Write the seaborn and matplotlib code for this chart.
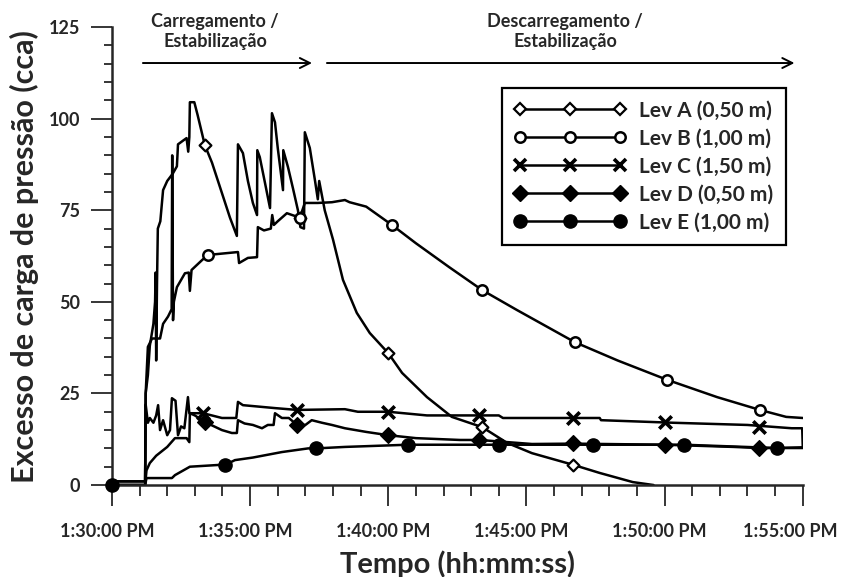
import numpy as np
import pandas as pd
import matplotlib
matplotlib.use("Agg")
import matplotlib.pyplot as plt
import matplotlib.dates as mdates
from matplotlib.lines import Line2D
from matplotlib.transforms import ScaledTranslation
import seaborn as sns

# time in minutes after 1:30:00 PM, pressure head excess in cca
lev_a_t = [0, 1.20, 1.22, 1.30, 1.37, 1.50, 1.56, 1.58, 1.60, 1.63, 1.66, 1.75, 1.85, 2.00, 2.20,
           2.35, 2.39, 2.57, 2.70, 2.76, 2.80, 2.82, 2.98, 3.10, 3.36, 3.62, 3.98, 4.27, 4.52, 4.56,
           4.74, 4.92, 5.10, 5.25, 5.26, 5.35, 5.54, 5.72, 5.79, 5.90, 6.00, 6.19, 6.20, 6.37, 6.55,
           6.73, 6.82, 6.95, 6.98, 7.16, 7.35, 7.45, 7.50, 7.60, 7.70, 8.00, 8.36, 8.86, 9.33, 10.00,
           10.50, 11.40, 12.30, 13.40, 14.30, 15.20, 16.70, 17.65, 18.85, 19.60]
lev_a_y = [1, 1, 25, 30, 38, 44, 50, 58, 34, 55, 70, 72, 80.5, 83, 85,
           87, 93, 94, 94.7, 91, 95, 104.5, 104.5, 101, 92.8, 88, 79.7, 73, 68, 93,
           90.6, 83, 77, 73.7, 91.4, 89.5, 82.4, 75.6, 101.5, 99, 92, 80.5, 91.4, 86.8, 81,
           75, 70.4, 70, 96.3, 92, 83, 78, 83, 79, 75, 67, 56, 47, 41.5, 36,
           30.6, 24, 18.6, 15.8, 11.5, 8.7, 5.5, 3.3, 0.8, 0]

lev_b_t = [0, 1.20, 1.22, 1.30, 1.45, 1.74, 1.85, 2.03, 2.16, 2.18, 2.21, 2.24, 2.35, 2.64, 2.78,
           2.82, 2.88, 3.26, 3.47, 4.56, 4.60, 4.92, 5.25, 5.28, 5.50, 5.75, 5.80, 5.86, 6.00, 6.33,
           6.60, 6.80, 6.98, 7.45, 7.96, 8.43, 8.60, 9.20, 10.13, 11.00, 12.20, 13.40, 14.65, 16.75,
           18.30, 20.10, 21.90, 23.45, 24.40, 25.00]
lev_b_y = [0, 0, 25, 37.7, 40, 40, 44, 46, 48, 90, 45, 50, 54, 57.8, 58,
           53, 58.7, 61.4, 62.8, 63.6, 60.6, 62, 62.2, 70.4, 69.5, 70, 73.7, 71, 72, 74.2,
           73.5, 73, 77, 77, 77.2, 77.8, 77.2, 76, 71, 66, 59.5, 53.2, 47.8, 39,
           34, 28.7, 24, 20.5, 18.6, 18.3]

lev_c_t = [0, 1.20, 1.22, 1.30, 1.37, 1.50, 1.60, 1.67, 1.74, 1.85, 2.00, 2.10, 2.17, 2.30, 2.39,
           2.50, 2.62, 2.75, 2.80, 2.90, 3.30, 3.98, 4.50, 4.56, 4.74, 5.90, 6.70, 8.43, 8.90, 10.00,
           11.40, 14.00, 14.15, 17.65, 17.70, 20.30, 23.00, 24.60, 24.98, 25.00]
lev_c_y = [1, 1, 22, 17, 18.3, 17, 19, 21.8, 15, 17.7, 13.6, 15, 23.7, 23, 13.6,
           16, 15.5, 24, 19.6, 19.6, 19.6, 18.3, 18.3, 22.7, 21.8, 21, 20.5, 20.7, 20, 20,
           19, 19, 18.3, 18.3, 17.7, 17, 16.4, 15.5, 15.5, 10.5]

lev_d_t = [0, 1.20, 1.25, 1.37, 1.60, 2.00, 2.28, 2.70, 2.80, 2.82, 3.00, 3.36, 3.98, 4.34, 4.52,
           4.56, 4.80, 5.10, 5.43, 5.64, 5.85, 5.90, 6.15, 6.40, 6.70, 7.00, 7.23, 7.60, 7.96, 8.43,
           9.20, 10.00, 11.00, 12.60, 13.30, 15.20, 16.70, 20.00, 22.50, 23.40, 25.00]
lev_d_y = [0, 0, 4, 6, 8, 10.4, 12.8, 12.8, 11.7, 19.6, 19, 17.2, 15, 14.2, 14.2,
           17.7, 16.8, 16.4, 15.5, 16.4, 16.4, 19.6, 18.3, 18.3, 16.4, 16.4, 17.7, 17, 16.4, 15.5,
           14.5, 13.6, 12.8, 12.3, 12.3, 11.2, 11.3, 11, 10.4, 10.1, 10.1]

lev_e_t = [0, 1.20, 1.25, 2.17, 2.28, 2.82, 3.90, 4.10, 4.45, 5.10, 6.15, 7.10, 7.40, 8.43,
           10.70, 14.00, 17.40, 20.70, 24.05, 25.00]
lev_e_y = [0, 0, 1.9, 1.9, 2.7, 5, 5.5, 5.5, 6.8, 7.5, 9, 10, 10, 10.4,
           11, 11, 11, 11, 10.1, 10.3]

# marker positions (Excel only marks every n-th reading)
mark_a_t = [3.36, 6.80, 10.00, 13.40, 16.70]
mark_a_y = [92.8, 73, 36, 15.8, 5.5]
mark_b_t = [3.47, 6.80, 10.13, 13.40, 16.75, 20.10, 23.45]
mark_b_y = [62.8, 73, 71, 53.2, 39, 28.7, 20.5]
mark_c_t = [3.30, 6.70, 10.00, 13.30, 16.70, 20.00, 23.40]
mark_c_y = [19.6, 20.5, 20, 19, 18.3, 17.2, 15.8]
mark_d_t = [3.36, 6.70, 10.00, 13.30, 16.70, 20.00, 23.40]
mark_d_y = [17.2, 16.4, 13.6, 12.3, 11.5, 11, 10.1]
mark_e_t = [0, 4.10, 7.40, 10.70, 14.00, 17.40, 20.70, 24.05]
mark_e_y = [0, 5.5, 10, 11, 11, 11, 11, 10.1]

labels = ["Lev A (0,50 m)", "Lev B (1,00 m)", "Lev C (1,50 m)", "Lev D (0,50 m)", "Lev E (1,00 m)"]

start = pd.Timestamp("2000-01-01 13:30:00")


def to_time(minutes):
    return start + pd.to_timedelta(np.asarray(minutes, dtype=float), unit="min")


def at(minute):
    return start + pd.Timedelta(minutes=minute)


lines = pd.concat([
    pd.DataFrame({"time": to_time(t), "cca": y, "serie": name})
    for t, y, name in [(lev_a_t, lev_a_y, labels[0]), (lev_b_t, lev_b_y, labels[1]),
                       (lev_c_t, lev_c_y, labels[2]), (lev_d_t, lev_d_y, labels[3]),
                       (lev_e_t, lev_e_y, labels[4])]
], ignore_index=True)

sns.set_style("ticks")
plt.rcParams["font.family"] = ["Lato", "DejaVu Sans"]
plt.rcParams["font.weight"] = "bold"

fig, ax = plt.subplots(figsize=(8.45, 5.77), dpi=100)
fig.subplots_adjust(left=0.1325, right=0.950, bottom=0.1594, top=0.953)

sns.lineplot(data=lines, x="time", y="cca", units="serie", estimator=None, sort=False,
             color="black", linewidth=1.8, ax=ax, legend=False)

# marker styles: (marker, size, face, edge width)
styles = [("D", 6.0, "white", 1.6), ("o", 7.5, "white", 1.8), ("x", 9.0, "black", 2.6),
          ("D", 8.0, "black", 1.0), ("o", 9.5, "black", 1.0)]
marks = [(mark_a_t, mark_a_y), (mark_b_t, mark_b_y), (mark_c_t, mark_c_y),
         (mark_d_t, mark_d_y), (mark_e_t, mark_e_y)]

for (mt, my), (mk, ms, fc, mew) in zip(marks, styles):
    kw = dict(color="black") if mk == "x" else dict(facecolor=fc, edgecolor="black")
    sns.scatterplot(x=to_time(mt), y=my, marker=mk, s=ms ** 2, linewidth=mew, ax=ax,
                    zorder=3, clip_on=False, **kw)

handles = [Line2D([], [], color="black", lw=1.8, marker=mk, markersize=ms, markerfacecolor=fc,
                  markeredgecolor="black", markeredgewidth=mew)
           for mk, ms, fc, mew in styles]
leg = ax.legend(handles, labels, loc="upper left", bbox_to_anchor=(0.564, 0.867),
                borderaxespad=0, numpoints=3, handlelength=5.4, fancybox=False,
                edgecolor="black", framealpha=1, fontsize=15, labelspacing=0.38,
                borderpad=0.6, handletextpad=0.6)
leg.get_frame().set_linewidth(1.6)

ax.set_xlim(start, at(25))
ax.set_ylim(0, 125)
ax.xaxis.set_major_locator(mdates.MinuteLocator(byminute=range(0, 60, 5)))
ax.xaxis.set_minor_locator(mdates.MinuteLocator())
ax.xaxis.set_major_formatter(mdates.DateFormatter("%-I:%M:%S %p"))
ax.set_yticks(np.arange(0, 126, 25))
ax.set_yticks(np.arange(0, 126, 5), minor=True)

ax.tick_params(axis="x", which="major", length=15, width=1.3, pad=12, labelsize=13)
ax.tick_params(axis="x", which="minor", length=8, width=1.3)
ax.tick_params(axis="y", which="major", length=15, width=1.3, pad=8, labelsize=13)
ax.tick_params(axis="y", which="minor", length=6, width=1.3)
for side in ["top", "right"]:
    ax.spines[side].set_visible(False)
for side in ["left", "bottom"]:
    ax.spines[side].set_linewidth(1.8)

ax.set_xlabel("Tempo (hh:mm:ss)", fontsize=21, fontweight="bold")
ax.set_ylabel("Excesso de carga de pressão (cca)", fontsize=22, fontweight="bold")
ax.xaxis.set_label_coords(0.5, -0.142)
ax.yaxis.set_label_coords(-0.105, 0.5)

# phase annotations with arrows
arrow = dict(arrowstyle="->", lw=1.4, color="black", mutation_scale=18, shrinkA=0, shrinkB=0)
ax.annotate("", xy=(at(7.24), 115.2), xytext=(at(1.12), 115.2), annotation_clip=False,
            arrowprops=arrow)
ax.annotate("", xy=(at(24.7), 115.2), xytext=(at(7.78), 115.2), annotation_clip=False,
            arrowprops=arrow)
ax.text(at(3.73), 123.8, "Carregamento /\nEstabilização", ha="center", va="center",
        fontsize=13, linespacing=1.15, clip_on=False)
ax.text(at(16.4), 123.8, "Descarregamento /\nEstabilização", ha="center", va="center",
        fontsize=13, linespacing=1.15, clip_on=False)

# the original tick labels sit a little left of their ticks (last one most)
fig.canvas.draw()
xlabels = ax.get_xticklabels()
for i, lab in enumerate(xlabels):
    dx = -12 if i == len(xlabels) - 1 else -5
    lab.set_transform(lab.get_transform() + ScaledTranslation(dx / 100, 0, fig.dpi_scale_trans))

fig.savefig("out.png", dpi=100)
